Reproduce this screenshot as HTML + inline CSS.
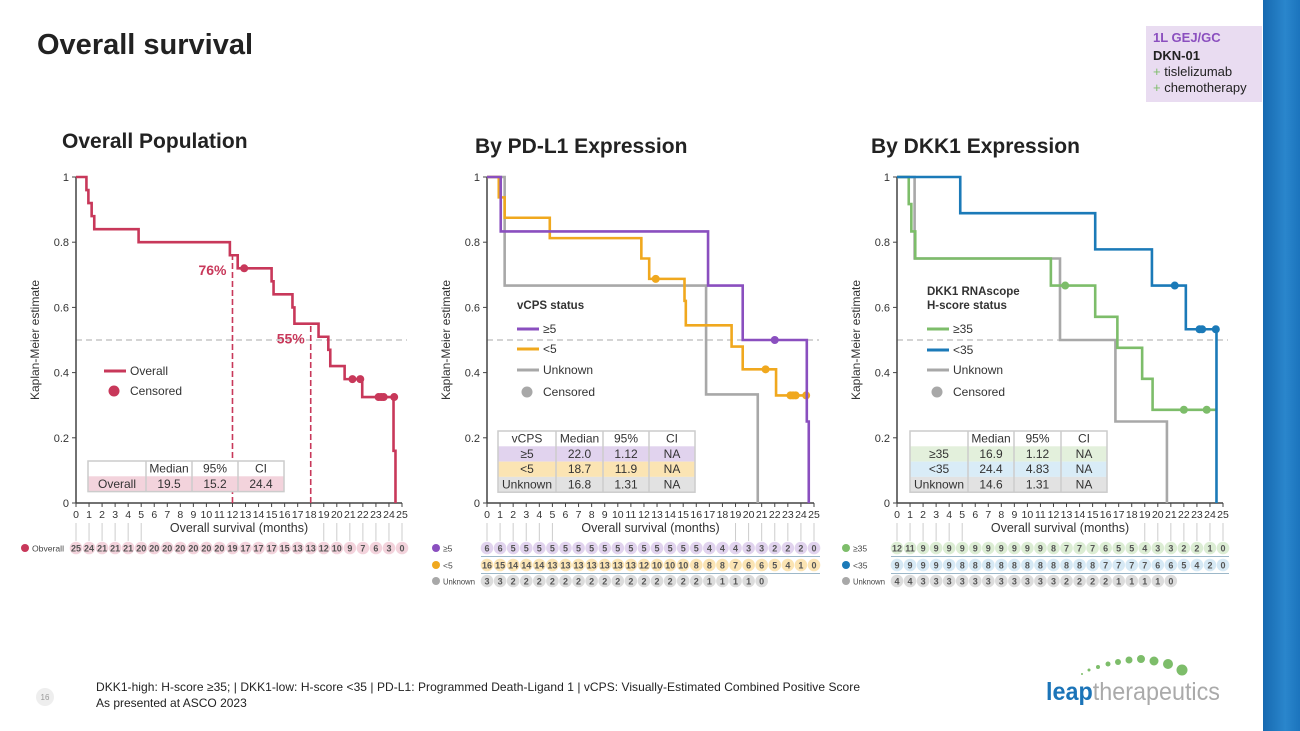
<!DOCTYPE html>
<html><head><meta charset="utf-8">
<style>
html,body{margin:0;padding:0;background:#fff;}
body{width:1300px;height:731px;overflow:hidden;position:relative;font-family:"Liberation Sans",sans-serif;}
svg text{font-family:"Liberation Sans","DejaVu Sans",sans-serif;}
.side{position:absolute;left:1263px;top:0;width:37px;height:731px;background:linear-gradient(90deg,#1669b0,#2a86cc 60%,#1b74bd);}
.tag{position:absolute;left:1146px;top:26px;width:116px;height:76px;background:#e9dcf1;box-sizing:border-box;padding:4px 0 0 7px;font-size:13px;line-height:16px;color:#222;}
</style></head>
<body>
<div class="side"></div>
<div class="tag">
<div style="color:#8b4fbf;font-weight:bold">1L GEJ/GC</div>
<div style="font-weight:bold;margin-top:2px">DKN-01</div>
<div><span style="color:#7dbd6a">+</span> tislelizumab</div>
<div><span style="color:#7dbd6a">+</span> chemotherapy</div>
</div>
<svg id="s" width="1300" height="731" style="position:absolute;left:0;top:0">
<text x="37" y="54" font-size="29" font-weight="bold" fill="#222">Overall survival</text>
<text x="62" y="148" font-size="21" font-weight="bold" fill="#222">Overall Population</text>
<text x="475" y="153" font-size="21" font-weight="bold" fill="#222">By PD-L1 Expression</text>
<text x="871" y="153" font-size="21" font-weight="bold" fill="#222">By DKK1 Expression</text>
<circle cx="45" cy="697" r="9" fill="#eee"/>
<text x="45" y="700" font-size="8" fill="#999" text-anchor="middle">16</text>
<text x="96" y="691" font-size="12" fill="#222" textLength="764">DKK1-high: H-score ≥35; | DKK1-low: H-score &lt;35 | PD-L1: Programmed Death-Ligand 1 | vCPS: Visually-Estimated Combined Positive Score</text>
<text x="96" y="707" font-size="12" fill="#222">As presented at ASCO 2023</text>
<g>
<circle cx="1082" cy="674" r="1" fill="#7dbd6a"/><circle cx="1089" cy="670" r="1.5" fill="#7dbd6a"/><circle cx="1098" cy="667" r="2" fill="#7dbd6a"/><circle cx="1108" cy="664" r="2.5" fill="#7dbd6a"/><circle cx="1118" cy="662" r="3" fill="#7dbd6a"/><circle cx="1129" cy="660" r="3.5" fill="#7dbd6a"/><circle cx="1141" cy="659" r="4" fill="#7dbd6a"/><circle cx="1154" cy="661" r="4.5" fill="#7dbd6a"/><circle cx="1168" cy="664" r="5" fill="#7dbd6a"/><circle cx="1182" cy="670" r="5.5" fill="#7dbd6a"/>
<text x="1046" y="700" font-size="25" textLength="174" lengthAdjust="spacingAndGlyphs"><tspan fill="#1b74b8" font-weight="bold">leap</tspan><tspan fill="#aaa">therapeutics</tspan></text>
</g>
</svg>
<script>
// ---- data ----
const monthTicks=[0,1,2,3,4,5,6,7,8,9,10,11,12,13,14,15,16,17,18,19,20,21,22,23,24,25];
const yTicks=[0,0.2,0.4,0.6,0.8,1];
const yTickLabels=["0","0.2","0.4","0.6","0.8","1"];
// chart 1 overall
const ovT=[0.8,0.95,1.2,1.4,4.8,11.8,12.4,15.0,15.15,16.6,16.75,18.6,19.35,19.5,20.6,21.95,24.35,24.5];
const ovS=[0.96,0.92,0.88,0.84,0.80,0.76,0.72,0.68,0.64,0.60,0.55,0.51,0.47,0.42,0.38,0.325,0.16,0];
const ovCT=[12.9,21.2,21.8,23.2,23.4,23.6,24.4];
const ovCS=[0.72,0.38,0.38,0.325,0.325,0.325,0.325];
const ovRisk=[25,24,21,21,21,20,20,20,20,20,20,20,19,17,17,17,15,13,13,12,10,9,7,6,3,0];
const landmarkT=[12,18];
const landmarkS=[0.76,0.55];
const landmarkLabels=["76%","55%"];
// chart 2 PD-L1
const hiT=[1.05,16.9,19.55,24.45,24.6];
const hiS=[0.833,0.667,0.5,0.25,0];
const hiCT=[22.0];
const hiCS=[0.5];
const loT=[0.9,1.35,4.8,11.8,12.4,15.1,15.2,18.7,19.55,22.1];
const loS=[0.9375,0.875,0.8125,0.75,0.6875,0.62,0.545,0.48,0.41,0.33];
const loCT=[12.9,21.3,23.2,23.4,23.6,24.4];
const loCS=[0.6875,0.41,0.33,0.33,0.33,0.33];
const unkT=[1.35,16.75,20.7];
const unkS=[0.667,0.333,0];
const hiRisk=[6,6,5,5,5,5,5,5,5,5,5,5,5,5,5,5,5,4,4,4,3,3,2,2,2,0];
const loRisk=[16,15,14,14,14,13,13,13,13,13,13,13,12,10,10,10,8,8,8,7,6,6,5,4,1,0];
const unkRisk=[3,3,2,2,2,2,2,2,2,2,2,2,2,2,2,2,2,1,1,1,1,0];
// chart 3 DKK1
const gT=[0.9,1.1,1.4,11.8,15.2,16.9,18.8,19.6];
const gS=[0.917,0.833,0.75,0.667,0.571,0.476,0.381,0.286];
const gCT=[12.9,22.0,23.75];
const gCS=[0.667,0.286,0.286];
const bT=[4.85,15.2,19.55,22.15,24.5];
const bS=[0.889,0.778,0.667,0.533,0];
const bCT=[21.3,23.2,23.4,24.45];
const bCS=[0.667,0.533,0.533,0.533];
const u2T=[1.35,12.5,16.75,20.7];
const u2S=[0.75,0.5,0.25,0];
const gRisk=[12,11,9,9,9,9,9,9,9,9,9,9,8,7,7,7,6,5,5,4,3,3,2,2,1,0];
const bRisk=[9,9,9,9,9,8,8,8,8,8,8,8,8,8,8,8,7,7,7,7,6,6,5,4,2,0];
const u2Risk=[4,4,3,3,3,3,3,3,3,3,3,3,3,2,2,2,2,1,1,1,1,0];

const NS="http://www.w3.org/2000/svg";
const svg=document.getElementById('s');
function mk(tag,attrs,parent,txt){const e=document.createElementNS(NS,tag);for(const k in attrs)e.setAttribute(k,attrs[k]);if(txt!==undefined)e.textContent=txt;(parent||svg).appendChild(e);return e;}

function chart(id,x0,x1){
  const y0=503,y1=177;
  const sx=t=>x0+(x1-x0)*t/25, sy=s=>y0-(y0-y1)*s;
  const g=mk('g',{});
  
  
  const rl=mk('line',{x1:x0,x2:x1+5,y1:sy(0.5),y2:sy(0.5),stroke:'#bbb','stroke-width':1.2,'stroke-dasharray':'6,4'},g);
  
  
  const ya=mk('line',{x1:x0,x2:x0,y1:y1,y2:y0,stroke:'#444','stroke-width':1.5},g);
  
  
  const xa=mk('line',{x1:x0,x2:x1,y1:y0,y2:y0,stroke:'#444','stroke-width':1.5},g);
  
  
  yTicks.forEach((v,i)=>{
    mk('line',{x1:x0-4,x2:x0,y1:sy(v),y2:sy(v),stroke:'#444'},g);
    const t=mk('text',{x:x0-7,y:sy(v)+4,'font-size':11,'text-anchor':'end',fill:'#333'},g,yTickLabels[i]);
    
    
  });
  monthTicks.forEach(m=>{
    mk('line',{x1:sx(m),x2:sx(m),y1:y0,y2:y0+4,stroke:'#444'},g);
    const t=mk('text',{x:sx(m),y:y0+15,'font-size':10.5,'text-anchor':'middle',fill:'#333'},g,String(m));
    
    
    if(m<6||m>18) mk('line',{x1:sx(m),x2:sx(m),y1:y0+20,y2:y0+38,stroke:'#ccc'},g);
  });
  const xt=mk('text',{x:(x0+x1)/2,y:y0+29,'font-size':12.5,'text-anchor':'middle',fill:'#333'},g,'Overall survival (months)');
  
  
  const yx=x0-37, yc=(y0+y1)/2;
  const yt=mk('text',{x:yx,y:yc,'font-size':12,'text-anchor':'middle',fill:'#333',transform:`rotate(-90 ${yx} ${yc})`},g,'Kaplan-Meier estimate');
  
  
  return {sx,sy,g,x0,x1};
}
function curve(c,name,T,S,end,CT,CS,color){
  let d=`M${c.sx(0)},${c.sy(1)}`;
  for(let i=0;i<T.length;i++){d+=` H${c.sx(T[i])} V${c.sy(S[i])}`;}
  if(end>T[T.length-1]) d+=` H${c.sx(end)}`;
  const p=mk('path',{d,fill:'none',stroke:color,'stroke-width':2.6},c.g);
  
  
  (CT||[]).forEach((t,i)=>{
    const ci=mk('circle',{cx:c.sx(t),cy:c.sy(CS[i]),r:4,fill:color},c.g);
    
    
  });
}
function riskRow(c,name,label,vals,y,color,light,sepAfter){
  const lx=c.x0-51;
  const dot=mk('circle',{cx:lx,cy:y,r:4,fill:color});
  
  
  const lt=mk('text',{x:lx+7,y:y+3.5,'font-size':8.5,fill:'#444'},svg,label);
  if(label.length>4){lt.setAttribute('textLength','32');lt.setAttribute('lengthAdjust','spacingAndGlyphs');}
  
  
  vals.forEach((v,i)=>{
    const b=mk('circle',{cx:c.sx(i),cy:y,r:6.3,fill:light});
    
    
    const t=mk('text',{x:c.sx(i),y:y+3.3,'font-size':9,'font-weight':'bold','text-anchor':'middle',fill:'#555'},svg,String(v));
    
    
  });
  if(sepAfter){const s=mk('line',{x1:c.x0-6,x2:c.x1+6,y1:y+8.5,y2:y+8.5,stroke:'#9db8c9','stroke-width':1});
    
    }
}
function legend(x,ys,items,titleLines){
  const g=mk('g',{});
  
  
  titleLines.forEach((t,i)=>{const e=mk('text',{x:x,y:ys[0]-20-14*(titleLines.length-1-i),'font-size':11.5,'font-weight':'bold',fill:'#333'},g,t);
    
    });
  items.forEach((it,i)=>{
    const y=ys[i];
    if(it.dot){mk('circle',{cx:x+10,cy:y,r:5.5,fill:it.color},g);}
    else mk('line',{x1:x,x2:x+22,y1:y,y2:y,stroke:it.color,'stroke-width':3},g);
    const e=mk('text',{x:x+26,y:y+4,'font-size':12,fill:'#333'},g,it.label);
    
    
  });
}
function table(x,y,colX,rows,fills){
  const g=mk('g',{});
  
  
  const h=15.3, w=colX[colX.length-1]-x;
  rows.forEach((r,ri)=>{
    mk('rect',{x:x,y:y+ri*h,width:w,height:h,fill:fills[ri]},g);
    r.forEach((cell,ci)=>{
      const left=colX[ci], right=colX[ci+1];
      const e=mk('text',{x:(left+right)/2,y:y+ri*h+11.5,'font-size':12,'text-anchor':'middle',fill:'#333'},g,cell);
      
      
    });
  });
  mk('rect',{x:x,y:y,width:w,height:h*rows.length,fill:'none',stroke:'#ccc','stroke-width':1.5},g);
  colX.slice(1,-1).forEach(cx=>mk('line',{x1:cx,x2:cx,y1:y,y2:y+h*rows.length,stroke:'#ccc','stroke-width':1.5},g));
}

// ---- chart 1 ----
const c1=chart('overall',76,402);
table(88,461,[88,146,192,238,284],[["","Median","95%","CI"],["Overall","19.5","15.2","24.4"]],['#fff','#f3d3dc']);
landmarkT.forEach((t,i)=>{
  const l=mk('line',{x1:c1.sx(t),x2:c1.sx(t),y1:c1.sy(0),y2:c1.sy(landmarkS[i]),stroke:'#c8385a','stroke-width':1.6,'stroke-dasharray':'6,3'},c1.g);
  
  
  const tx=mk('text',{x:c1.sx(t)-6,y:c1.sy(landmarkS[i])+20,'font-size':14,'font-weight':'bold','text-anchor':'end',fill:'#c8385a'},c1.g,landmarkLabels[i]);
  
  
});
curve(c1,'overall',ovT,ovS,24.5,ovCT,ovCS,'#c8385a');
legend(104,[371,391],[{label:'Overall',color:'#c8385a'},{label:'Censored',color:'#c8385a',dot:true}],[]);
riskRow(c1,'overall','Obverall',ovRisk,548,'#c8385a','#f3d3dc',false);

// ---- chart 2 ----
const c2=chart('pdl1',487,814);
curve(c2,'unknown',unkT,unkS,20.7,[],[],'#a8a8a8');
curve(c2,'vcps-low',loT,loS,24.55,loCT,loCS,'#f0a81e');
curve(c2,'vcps-high',hiT,hiS,24.6,hiCT,hiCS,'#8a4fbf');
legend(517,[329,349,370,392],[{label:'≥5',color:'#8a4fbf'},{label:'<5',color:'#f0a81e'},{label:'Unknown',color:'#a8a8a8'},{label:'Censored',color:'#a8a8a8',dot:true}],['vCPS status']);
table(498,431,[498,556,603,649,695],[["vCPS","Median","95%","CI"],["≥5","22.0","1.12","NA"],["<5","18.7","11.9","NA"],["Unknown","16.8","1.31","NA"]],['#fff','#e1d3ee','#fbe4b3','#e2e2e2']);
riskRow(c2,'vcps-high','≥5',hiRisk,548,'#8a4fbf','#e1d3ee',true);
riskRow(c2,'vcps-low','<5',loRisk,565,'#f0a81e','#fbe4b3',true);
riskRow(c2,'vcps-unknown','Unknown',unkRisk,581,'#a8a8a8','#dcdcdc',false);

// ---- chart 3 ----
const c3=chart('dkk1',897,1223);
curve(c3,'dkk1-unknown',u2T,u2S,20.7,[],[],'#a8a8a8');
curve(c3,'dkk1-high',gT,gS,24.55,gCT,gCS,'#7dbd6a');
curve(c3,'dkk1-low',bT,bS,24.5,bCT,bCS,'#1b7ab8');
legend(927,[329,350,370,392],[{label:'≥35',color:'#7dbd6a'},{label:'<35',color:'#1b7ab8'},{label:'Unknown',color:'#a8a8a8'},{label:'Censored',color:'#a8a8a8',dot:true}],['DKK1 RNAscope','H-score status']);
table(910,431,[910,968,1014,1061,1107],[["","Median","95%","CI"],["≥35","16.9","1.12","NA"],["<35","24.4","4.83","NA"],["Unknown","14.6","1.31","NA"]],['#fff','#e3f0dc','#d9ecf7','#e2e2e2']);
riskRow(c3,'dkk1-high','≥35',gRisk,548,'#7dbd6a','#dcedd4',true);
riskRow(c3,'dkk1-low','<35',bRisk,565,'#1b7ab8','#d6e9f5',true);
riskRow(c3,'dkk1-unknown','Unknown',u2Risk,581,'#a8a8a8','#dcdcdc',false);
</script>
</body></html>
